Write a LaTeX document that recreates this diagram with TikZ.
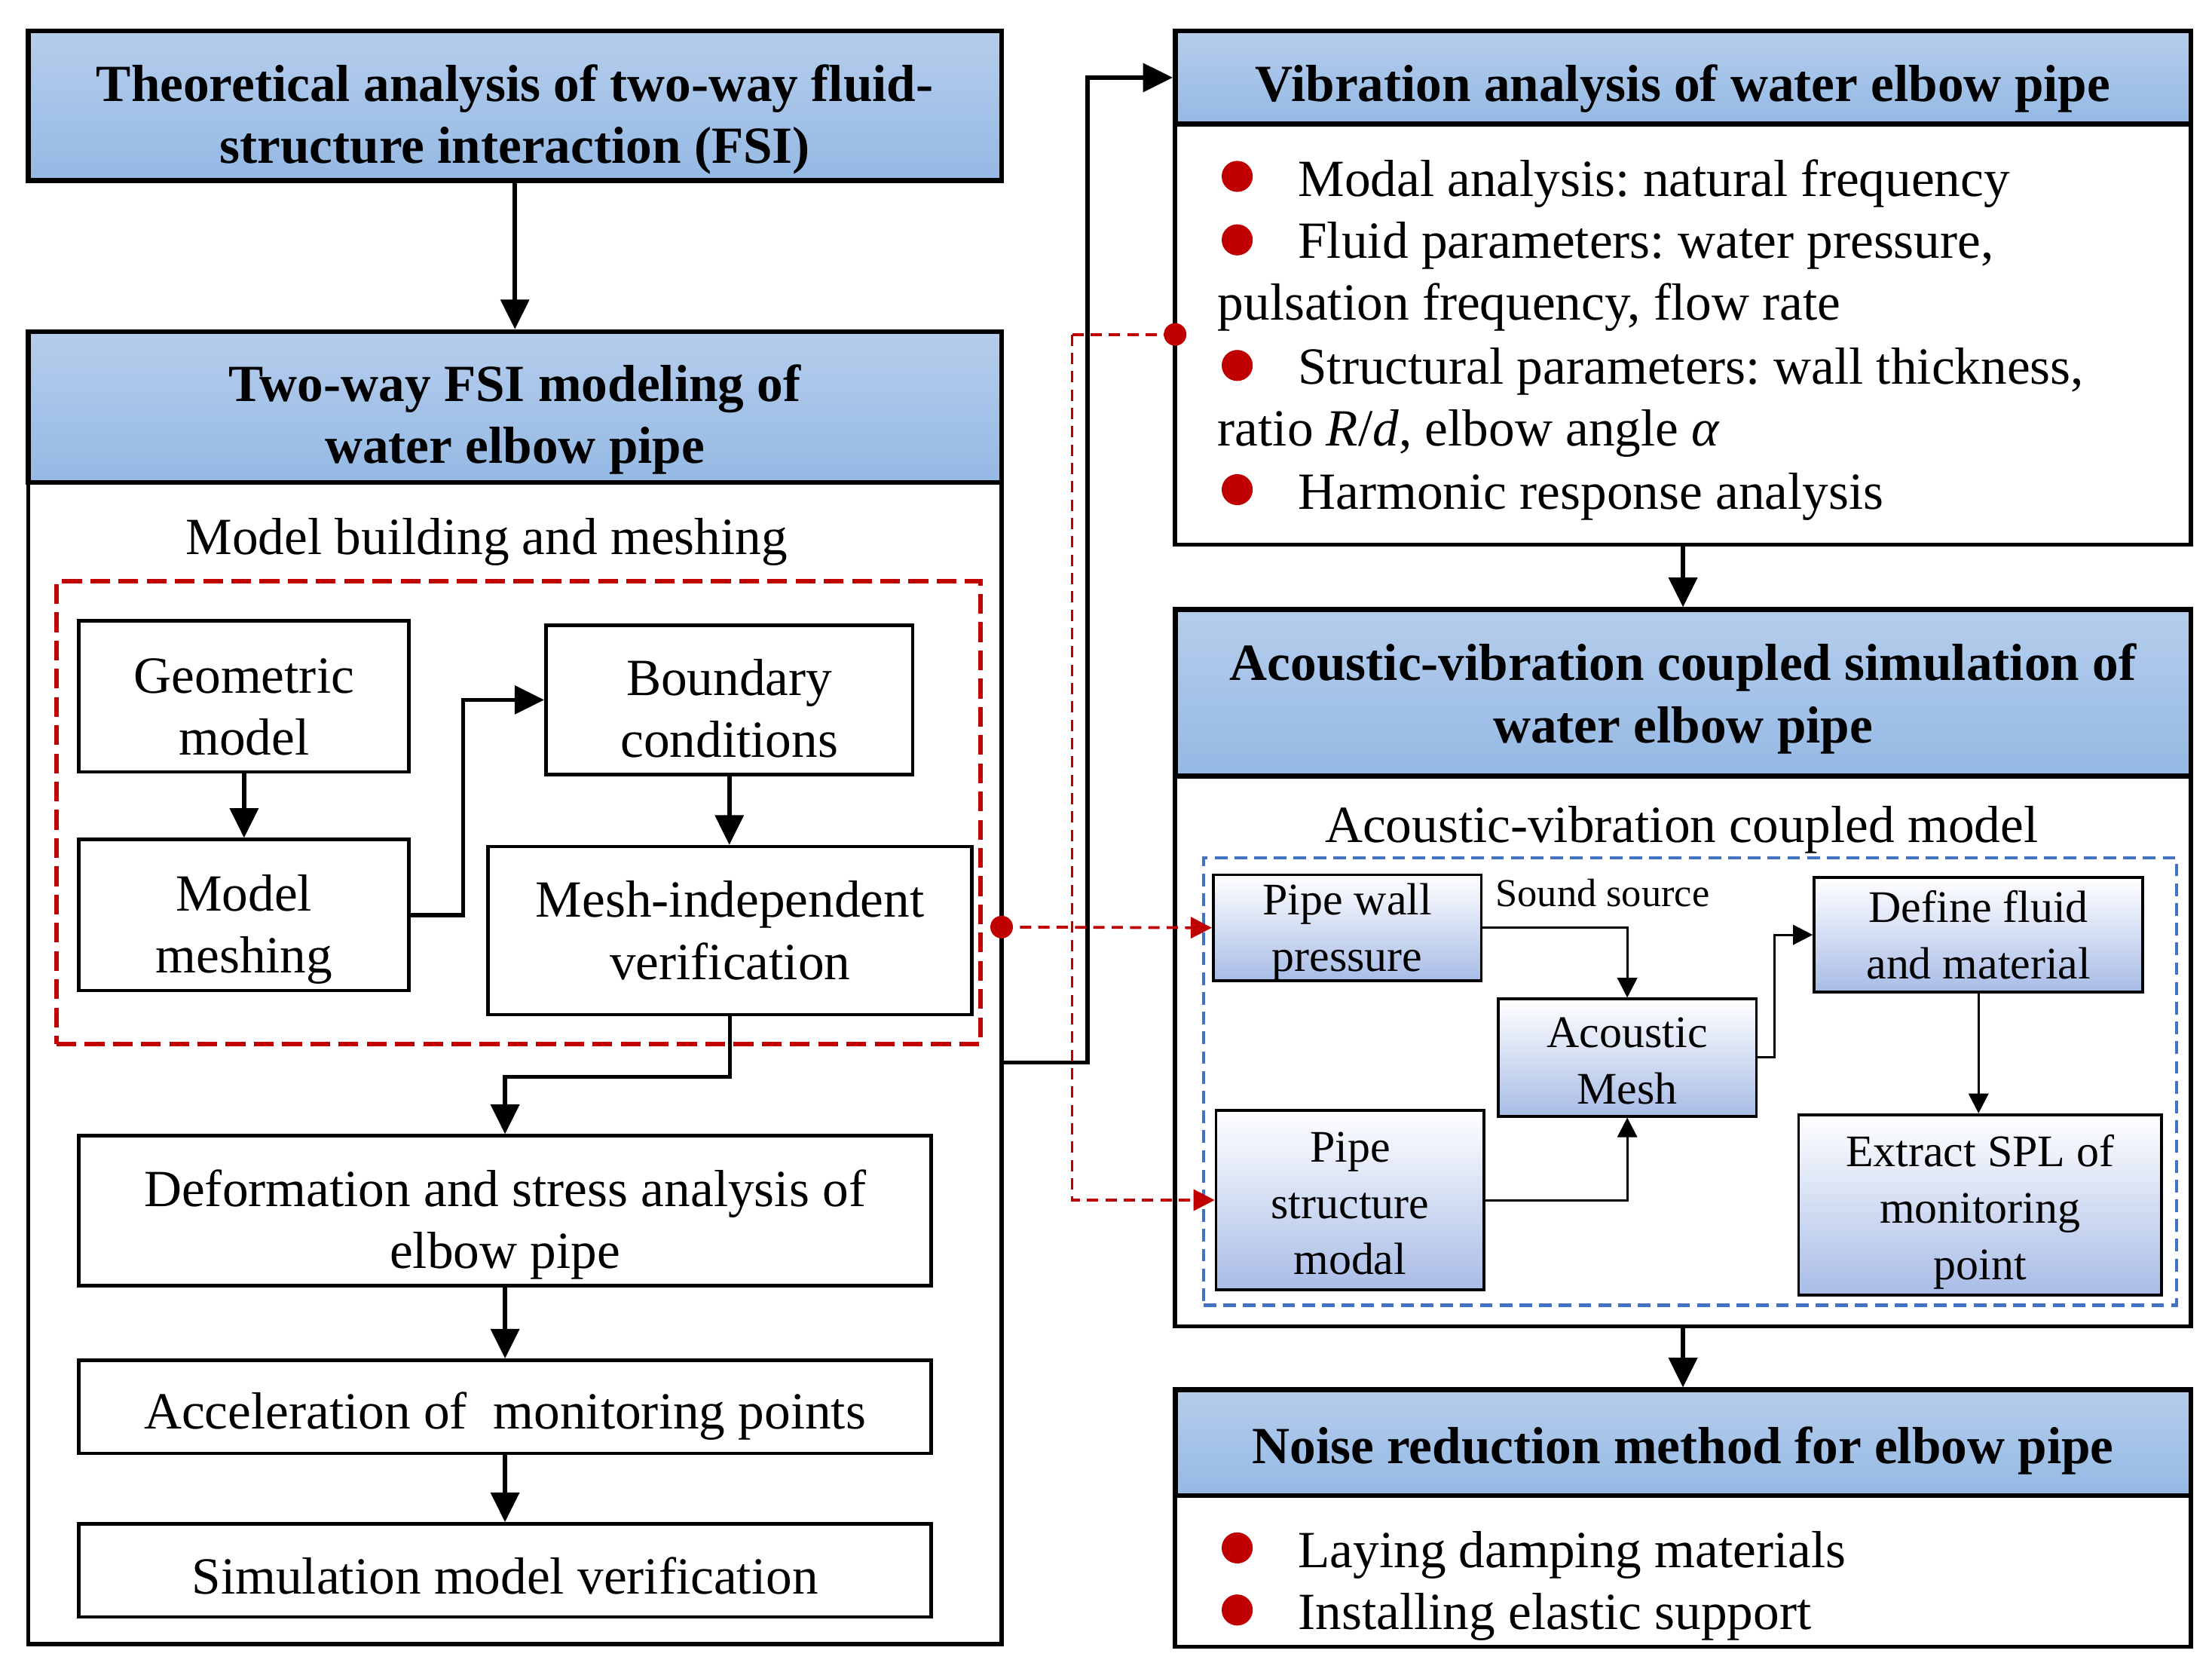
\documentclass[tikz,border=0pt]{standalone}
\usepackage{fontspec}
\setmainfont{Liberation Serif}
\frenchspacing
\usetikzlibrary{arrows.meta,calc}
\definecolor{hdtop}{RGB}{182,205,236}
\definecolor{hdbot}{RGB}{148,185,228}
\definecolor{ibot}{RGB}{168,188,230}
\definecolor{dred}{RGB}{192,0,0}
\definecolor{dblue}{RGB}{68,114,196}
\newcommand{\dn}[1]{\rule{0pt}{#1}}
\tikzset{
  hdr/.style={draw, line width=3.5pt, top color=hdtop, bottom color=hdbot, align=center,
    font=\fontsize{37}{44}\selectfont\bfseries, inner sep=0pt},
  bodybox/.style={draw, line width=3pt, inner sep=0pt},
  wbox/.style={draw, line width=2.5pt, fill=white, align=center, inner sep=0pt,
    font=\fontsize{37}{44}\selectfont},
  gbox/.style={draw, line width=2pt, top color=white, bottom color=ibot, align=center, inner sep=0pt,
    font=\fontsize{32}{40}\selectfont},
  arr/.style={line width=3pt, -{Triangle[length=21pt,width=20pt]}},
  sarr/.style={line width=1.6pt, -{Triangle[length=14pt,width=14pt]}},
  rarr/.style={line width=2pt, dred, dash pattern=on 8pt off 5pt, -{Triangle[length=15pt,width=15pt]}},
  rline/.style={line width=2pt, dred, dash pattern=on 8pt off 5pt},
  txt/.style={font=\fontsize{37}{44}\selectfont, inner sep=0pt, text height=32pt, text depth=8pt},
  ltxt/.style={font=\fontsize{37}{44}\selectfont, inner sep=0pt, anchor=west, text height=32pt, text depth=8pt},
  bul/.style={circle, fill=dred, minimum size=22pt, inner sep=0pt},
  rdot/.style={circle, fill=dred, minimum size=16pt, inner sep=0pt},
}
\begin{document}
\begin{tikzpicture}[x=1pt,y=-1pt]
\useasboundingbox (0,0) rectangle (1568,1187);
\fill[white] (0,0) rectangle (1568,1187);

% ---------- left column ----------
\node[hdr, minimum width=690pt, minimum height=106pt] (th) at (365,75)
  {\dn{45.5pt}Theoretical analysis of two-way fluid-\\structure interaction (FSI)};
\node[bodybox, minimum width=690pt, minimum height=823pt] (fsib) at (365,753.5) {};
\node[hdr, minimum width=690pt, minimum height=107pt] (fsih) at (365,288.5)
  {\dn{43.5pt}Two-way FSI modeling of\\water elbow pipe};
\draw[arr] (th.south) -- (fsih.north);

\node[txt] (mbm) at (345,381) {Model building and meshing};
\node[draw=dred, line width=3pt, dash pattern=on 14pt off 6pt, minimum width=655pt, minimum height=328pt, inner sep=0pt] (redr) at (367.5,576) {};

\node[wbox, minimum width=234pt, minimum height=107pt] (geom) at (173,493.5) {\dn{39.5pt}Geometric\\model};
\node[wbox, minimum width=234pt, minimum height=107pt] (mesh) at (173,648.5) {\dn{46pt}Model\\meshing};
\node[wbox, minimum width=260pt, minimum height=106pt] (bound) at (517,496) {\dn{37.5pt}Boundary\\conditions};
\node[wbox, minimum width=343pt, minimum height=119pt] (mind) at (517.5,659.5) {Mesh-independent\\verification};
\node[wbox, minimum width=604pt, minimum height=106pt] (defo) at (358,858) {\dn{45.5pt}Deformation and stress analysis of\\elbow pipe};
\node[wbox, minimum width=604pt, minimum height=66pt] (accel) at (358,997) {\dn{39.5pt}Acceleration of~ monitoring points};
\node[wbox, minimum width=604pt, minimum height=66pt] (simv) at (358,1113) {\dn{33.5pt}Simulation model verification};

\draw[arr] (geom.south) -- (mesh.north);
\draw[arr] (mesh.east) -- ++(37,0) |- (bound.west);
\draw[arr] (bound.south) -- (bound.south |- mind.north);
\draw[arr] (mind.south) -- ++(0,43) -| (defo.north);
\draw[arr] (defo.south) -- (accel.north);
\draw[arr] (accel.south) -- (simv.north);

% ---------- right column ----------
\node[bodybox, minimum width=720pt, minimum height=298pt] (vibb) at (1193,237) {};
\node[hdr, minimum width=720pt, minimum height=66pt] (vibh) at (1193,55) {\dn{41.5pt}Vibration analysis of water elbow pipe};

\node[bul] (b1) at (877,125) {};
\node[ltxt] (l1) at (920,127) {Modal analysis: natural frequency};
\node[bul] (b2) at (877,170) {};
\node[ltxt] (l2) at (920,171) {Fluid parameters: water pressure,};
\node[ltxt] (l3) at (863,215) {pulsation frequency, flow rate};
\node[bul] (b3) at (877,259) {};
\node[ltxt] (l4) at (920,260) {Structural parameters: wall thickness,};
\node[ltxt] (l5) at (863,304) {ratio \textit{R}/\textit{d}, elbow angle \textit{α}};
\node[bul] (b4) at (877,347) {};
\node[ltxt] (l6) at (920,349) {Harmonic response analysis};

\node[bodybox, minimum width=720pt, minimum height=390pt] (acob) at (1193,745) {};
\node[hdr, minimum width=720pt, minimum height=118pt] (acoh) at (1193,491)
  {\dn{34.5pt}Acoustic-vibration coupled simulation of\\water elbow pipe};
\draw[arr] (vibb.south) -- (acoh.north);

\node[txt] (avcm) at (1192,585) {Acoustic-vibration coupled model};
\node[draw=dblue, line width=2.2pt, dash pattern=on 9pt off 5pt, minimum width=690pt, minimum height=317pt, inner sep=0pt] (bluer) at (1198,766.5) {};

\node[gbox, minimum width=190pt, minimum height=75pt] (pwp) at (955,657.5) {\dn{28pt}Pipe wall\\pressure};
\node[gbox, minimum width=183pt, minimum height=83pt] (amesh) at (1153.5,749.5) {\dn{26pt}Acoustic\\Mesh};
\node[gbox, minimum width=233pt, minimum height=81pt] (dfm) at (1402.5,662.5) {Define fluid\\and material};
\node[gbox, minimum width=190pt, minimum height=127pt] (psm) at (957,850.5) {\dn{26pt}Pipe\\structure\\modal};
\node[gbox, minimum width=257pt, minimum height=128pt] (spl) at (1403.5,854) {\dn{32pt}Extract SPL of\\monitoring\\point};
\node[font=\fontsize{28}{32}\selectfont, inner sep=0pt] (ss) at (1136,633) {Sound source};

\draw[sarr] (pwp.east) -| (amesh.north);
\draw[sarr] (psm.east) -| (amesh.south);
\draw[sarr] (amesh.east) -- ++(12,0) |- (dfm.west);
\draw[sarr] (dfm.south) -- (dfm.south |- spl.north);

\node[bodybox, minimum width=720pt, minimum height=107pt] (noib) at (1193,1113.5) {};
\node[hdr, minimum width=720pt, minimum height=75pt] (noih) at (1193,1022.5) {\dn{37.5pt}Noise reduction method for elbow pipe};
\draw[arr] (acob.south) -- (noih.north);

\node[bul] (b5) at (877,1097) {};
\node[ltxt] (l7) at (920,1099) {Laying damping materials};
\node[bul] (b6) at (877,1141) {};
\node[ltxt] (l8) at (920,1143) {Installing elastic support};

% ---------- cross connectors ----------
\coordinate (j1) at (771,753);
\draw[arr] (fsib.east |- j1) -- (j1) |- (vibh.west);

\coordinate (rd1) at (710,657);
\coordinate (rd2) at (833,237);
\coordinate (rj) at (760,237);
\draw[rarr] (rd1) -- (pwp.west);
\draw[rline] (rd2) -- (rj);
\draw[rarr] (rj) |- (psm.west);
\node[rdot] (dot1) at (rd1) {};
\node[rdot] (dot2) at (rd2) {};
\end{tikzpicture}
\end{document}
